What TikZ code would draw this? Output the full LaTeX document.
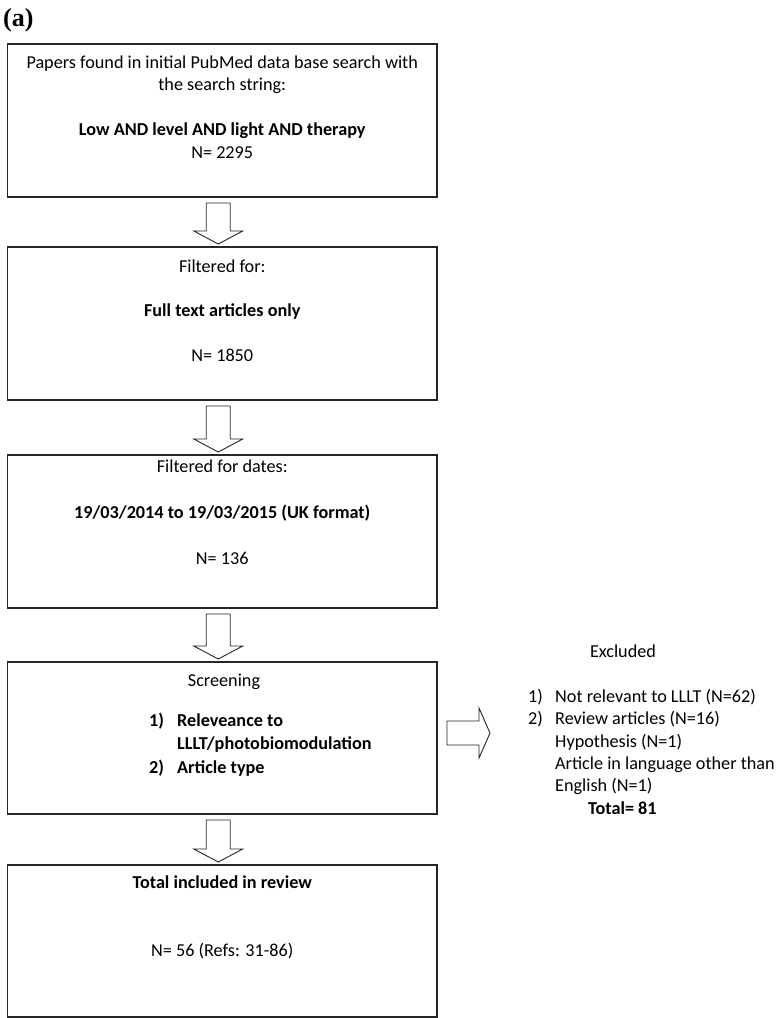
\documentclass[tikz,border=0pt]{standalone}
\usepackage{fontspec}
\setmainfont{Carlito}
\newfontfamily\panelfont{Liberation Serif}
\usetikzlibrary{calc,positioning}

% block arrow from one box down to the next one
\newcommand{\downblock}[2]{%
  \draw[blockarr] ($(#1.south)+(-16,6)$) -- ($(#1.south)+(8,6)$)
    -- ($(#2.north)+(8,-16)$) -- ($(#2.north)+(20.5,-16)$)
    -- ($(#2.north)+(-4,-3)$) -- ($(#2.north)+(-28.5,-16)$)
    -- ($(#2.north)+(-16,-16)$) -- cycle;
}

\begin{document}
\begin{tikzpicture}[
    x=1pt, y=-1pt,
    box/.style={rectangle, draw=black!85, line width=1.1pt, minimum width=429.5pt,
      minimum height=153pt, inner sep=0pt, outer sep=0pt, anchor=north},
    txt/.style={inner sep=0pt, anchor=base, align=center,
      font=\fontsize{18.2}{22.5}\selectfont},
    blockarr/.style={draw=black!85, line width=0.9pt, line join=miter, fill=white}
]
    \useasboundingbox (0,0) rectangle (780,1018);
    \node[anchor=base west, inner sep=0pt, font=\panelfont\fontsize{26}{28}\selectfont\bfseries]
      (panel) at (3,26) {(a)};

    \node[box] (b1) at (222.25,44) {};
    \node[box, below=50pt of b1] (b2) {};
    \node[box, below=55pt of b2] (b3) {};
    \node[box, below=54pt of b3, minimum height=152pt] (b4) {};
    \node[box, below=51pt of b4, minimum height=152pt] (b5) {};

    % texts are placed at the baseline of their last line
    \node[txt] (t1) at (222.25,158) {Papers found in initial PubMed data base search with\\
      the search string:\\[22.5pt]
      \textbf{Low AND level AND light AND therapy}\\N= 2295};
    \node[txt] (t2) at (222.25,361) {Filtered for:\\[22pt]
      \textbf{Full text articles only}\\[22pt]N= 1850};
    \node[txt] (t3) at (222.25,564) {Filtered for dates:\\[23.5pt]
      \textbf{19/03/2014 to 19/03/2015 (UK format)}\\[23.5pt]N= 136};
    \node[txt] (t4) at (224,686) {Screening};
    \node[txt, anchor=base west, align=left, font=\fontsize{18.2}{22.5}\selectfont\bfseries]
      (t4list) at (149,773) {\makebox[28pt][l]{1)}Releveance to\\[1pt]
      \hspace*{28pt}LLLT/photobiomodulation\\[1pt]
      \makebox[28pt][l]{2)}Article type};
    \node[txt] (t5) at (222.25,956) {\textbf{Total included in review}\\[45.5pt]
      N= 56 (Refs: 31-86)};

    \node[txt] (exclhead) at (623,657) {Excluded};
    \node[txt, anchor=base west, align=left, font=\fontsize{18.2}{22.3}\selectfont]
      (excl) at (528,814) {\makebox[27pt][l]{1)}Not relevant to LLLT (N=62)\\
      \makebox[27pt][l]{2)}Review articles (N=16)\\
      \hspace*{27pt}Hypothesis (N=1)\\
      \hspace*{27pt}Article in language other than\\
      \hspace*{27pt}English (N=1)\\
      \hspace*{60pt}\textbf{Total= 81}};

    \downblock{b1}{b2}
    \downblock{b2}{b3}
    \downblock{b3}{b4}
    \downblock{b4}{b5}
    % side arrow to the excluded papers
    \draw[blockarr] ($(b4.east)+(10,-17)$) -- ($(b4.east)+(42,-17)$)
      -- ($(b4.east)+(42,-30)$) -- ($(b4.east)+(53,-5)$)
      -- ($(b4.east)+(42,20)$) -- ($(b4.east)+(42,7)$)
      -- ($(b4.east)+(10,7)$) -- cycle;
\end{tikzpicture}
\end{document}
